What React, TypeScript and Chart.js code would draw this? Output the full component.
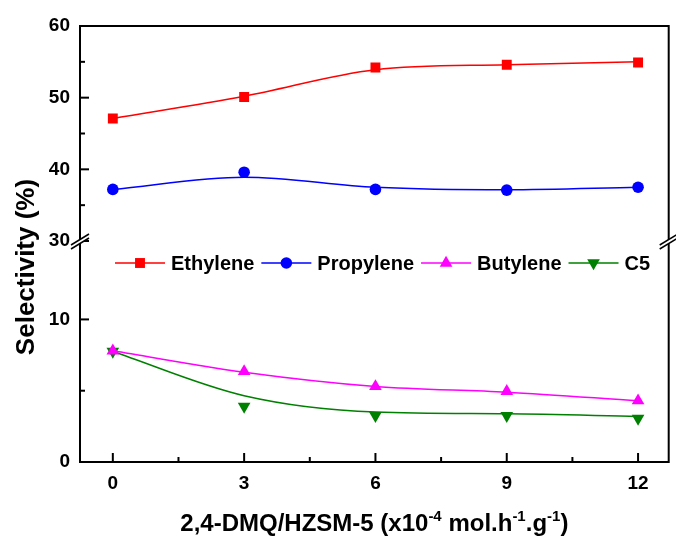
import React, { useEffect, useRef } from 'react';
import { Chart, registerables } from 'chart.js';

Chart.register(...registerables);

// ---- data ----
const xValues = [0, 3, 6, 9, 12];
const ethylene = [47.1, 50.1, 54.2, 54.6, 54.9];
const propylene = [37.2, 39.6, 37.2, 37.1, 37.5];
const butylene = [7.8, 6.35, 5.3, 4.95, 4.3];
const c5 = [7.75, 3.9, 3.25, 3.25, 3.05];
// smoothed curves as drawn in the figure (read at the same x positions)
const ethyleneCurve = [47.1, 50.2, 53.9, 54.6, 55.0];
const propyleneCurve = [37.2, 38.9, 37.5, 37.15, 37.5];
const butyleneCurve = [7.8, 6.3, 5.3, 4.9, 4.3];
const c5Curve = [7.75, 4.65, 3.5, 3.38, 3.19];

const seriesNames = ['Ethylene', 'Propylene', 'Butylene', 'C5'];
const seriesColors = ['#FF0000', '#0000FF', '#FF00FF', '#008000'];

const xTicks = [0, 3, 6, 9, 12];
const xMinorTicks = [1.5, 4.5, 7.5, 10.5];
const upperTicks = [30, 40, 50, 60];
const upperMinorTicks = [35, 45, 55];
const lowerTicks = [0, 10];
const lowerMinorTicks = [5];

const FONT_FAMILY = '"Liberation Sans", Arial, Helvetica, sans-serif';

type Marker = { style: string; radius: number; rotation: number };
const markers: Marker[] = [
  { style: 'rect', radius: 7, rotation: 0 },
  { style: 'circle', radius: 5.8, rotation: 0 },
  { style: 'triangle', radius: 7.3, rotation: 0 },
  { style: 'triangle', radius: 7.3, rotation: 180 },
];

function drawMarker(ctx: CanvasRenderingContext2D, m: Marker, x: number, y: number, color: string) {
  ctx.save();
  ctx.fillStyle = color;
  ctx.beginPath();
  if (m.style === 'rect') {
    const s = Math.SQRT1_2 * m.radius;
    ctx.rect(x - s, y - s, 2 * s, 2 * s);
  } else if (m.style === 'circle') {
    ctx.arc(x, y, m.radius, 0, Math.PI * 2);
  } else {
    let rad = (m.rotation * Math.PI) / 180;
    const r = m.radius;
    ctx.moveTo(x + Math.sin(rad) * r, y - Math.cos(rad) * r);
    rad += (2 * Math.PI) / 3;
    ctx.lineTo(x + Math.sin(rad) * r, y - Math.cos(rad) * r);
    rad += (2 * Math.PI) / 3;
    ctx.lineTo(x + Math.sin(rad) * r, y - Math.cos(rad) * r);
    ctx.closePath();
  }
  ctx.fill();
  ctx.restore();
}

const decorPlugin = {
  id: 'decor',
  afterDraw(chart: any) {
    const ctx: CanvasRenderingContext2D = chart.ctx;
    const { left, right, top, bottom } = chart.chartArea;
    const xs = chart.scales.x;
    const yl = chart.scales.yLow;
    const yh = chart.scales.yHigh;
    ctx.save();
    ctx.strokeStyle = '#000';
    ctx.lineCap = 'butt';

    const seg = (x1: number, y1: number, x2: number, y2: number) => {
      ctx.beginPath();
      ctx.moveTo(x1, y1);
      ctx.lineTo(x2, y2);
      ctx.stroke();
    };

    // frame
    ctx.lineWidth = 2;
    ctx.strokeRect(left, top, right - left, bottom - top);

    // ticks (inward)
    ctx.lineWidth = 2;
    xTicks.forEach((v) => {
      const p = xs.getPixelForValue(v);
      seg(p, bottom, p, bottom - 9);
    });
    xMinorTicks.forEach((v) => {
      const p = xs.getPixelForValue(v);
      seg(p, bottom, p, bottom - 5);
    });
    upperTicks.forEach((v) => {
      const p = yh.getPixelForValue(v);
      seg(left, p, left + 9, p);
    });
    upperMinorTicks.forEach((v) => {
      const p = yh.getPixelForValue(v);
      seg(left, p, left + 5, p);
    });
    lowerTicks.forEach((v) => {
      const p = yl.getPixelForValue(v);
      seg(left, p, left + 9, p);
    });
    lowerMinorTicks.forEach((v) => {
      const p = yl.getPixelForValue(v);
      seg(left, p, left + 5, p);
    });

    // axis break marks
    const yb = yh.bottom;
    const breakMark = (cx: number) => {
      ctx.fillStyle = '#fff';
      ctx.beginPath();
      ctx.moveTo(cx - 9, yb + 4);
      ctx.lineTo(cx + 9, yb - 7);
      ctx.lineTo(cx + 9, yb - 3);
      ctx.lineTo(cx - 9, yb + 8);
      ctx.closePath();
      ctx.fill();
      ctx.strokeStyle = '#000';
      ctx.lineWidth = 1.5;
      seg(cx - 9, yb + 4, cx + 9, yb - 7);
      seg(cx - 9, yb + 8, cx + 9, yb - 3);
    };
    breakMark(left);
    breakMark(right);

    // legend
    ctx.font = `bold 20px ${FONT_FAMILY}`;
    ctx.textAlign = 'left';
    ctx.textBaseline = 'alphabetic';
    let lx = left + 35;
    const ly = yl.getPixelForValue(15.5) + 22;
    seriesNames.forEach((name, i) => {
      const color = seriesColors[i];
      ctx.strokeStyle = color;
      ctx.lineWidth = 1.5;
      seg(lx, ly, lx + 50, ly);
      drawMarker(ctx, markers[i], lx + 25, ly, color);
      ctx.fillStyle = '#000';
      ctx.fillText(name, lx + 56, ly + 7);
      lx += 56 + ctx.measureText(name).width + 7;
    });

    // y title
    ctx.save();
    ctx.fillStyle = '#000';
    ctx.font = `bold 26px ${FONT_FAMILY}`;
    ctx.translate(34, 267);
    ctx.rotate(-Math.PI / 2);
    ctx.textAlign = 'center';
    ctx.textBaseline = 'alphabetic';
    ctx.fillText('Selectivity (%)', 0, 0);
    ctx.restore();

    // x title with superscripts
    const mainFont = `bold 24px ${FONT_FAMILY}`;
    const supFont = `bold 15px ${FONT_FAMILY}`;
    const parts: [string, boolean][] = [
      ['2,4-DMQ/HZSM-5 (x10', false],
      ['-4', true],
      [' mol.h', false],
      ['-1', true],
      ['.g', false],
      ['-1', true],
      [')', false],
    ];
    let total = 0;
    parts.forEach(([t, sup]) => {
      ctx.font = sup ? supFont : mainFont;
      total += ctx.measureText(t).width;
    });
    let tx = (left + right) / 2 - total / 2;
    const baseY = 531;
    ctx.fillStyle = '#000';
    ctx.textAlign = 'left';
    parts.forEach(([t, sup]) => {
      ctx.font = sup ? supFont : mainFont;
      ctx.fillText(t, tx, sup ? baseY - 10 : baseY);
      tx += ctx.measureText(t).width;
    });

    ctx.restore();
  },
};

const pts = (ys: number[]) => xValues.map((x, i) => ({ x, y: ys[i] }));

export default function App() {
  const canvasRef = useRef<HTMLCanvasElement | null>(null);

  useEffect(() => {
    document.body.style.margin = '0';
    const canvas = canvasRef.current;
    if (!canvas) return;
    const tickFont = { family: FONT_FAMILY, weight: 'bold' as const, size: 19 };
    const axisIds = ['yHigh', 'yHigh', 'yLow', 'yLow'];
    const pointSeries = [ethylene, propylene, butylene, c5];
    const curveSeries = [ethyleneCurve, propyleneCurve, butyleneCurve, c5Curve];

    const datasets: any[] = [];
    pointSeries.forEach((s, i) => {
      datasets.push({
        label: seriesNames[i],
        data: pts(s),
        yAxisID: axisIds[i],
        showLine: false,
        pointStyle: markers[i].style,
        pointRadius: markers[i].radius,
        pointRotation: markers[i].rotation,
        pointBackgroundColor: seriesColors[i],
        pointBorderWidth: 0,
        pointBorderColor: seriesColors[i],
        order: 0,
      });
    });
    curveSeries.forEach((s, i) => {
      datasets.push({
        label: seriesNames[i] + ' curve',
        data: pts(s),
        yAxisID: axisIds[i],
        showLine: true,
        pointRadius: 0,
        borderColor: seriesColors[i],
        borderWidth: 1.5,
        cubicInterpolationMode: 'monotone',
        fill: false,
        order: 1,
      });
    });

    const chart = new Chart(canvas, {
      type: 'line',
      data: { datasets },
      options: {
        responsive: false,
        animation: false,
        events: [],
        layout: { padding: { top: 26, right: 3, left: 0, bottom: 0 } },
        plugins: { legend: { display: false }, tooltip: { enabled: false } },
        scales: {
          x: {
            type: 'linear',
            position: 'bottom',
            min: -0.75,
            max: 12.7,
            afterBuildTicks: (s: any) => {
              s.ticks = xTicks.map((v) => ({ value: v }));
            },
            afterFit: (s: any) => {
              s.height = 76;
            },
            grid: { display: false, drawTicks: false },
            border: { display: false },
            ticks: { font: tickFont, color: '#000', padding: 10, maxRotation: 0, autoSkip: false },
          },
          yLow: {
            type: 'linear',
            position: 'left',
            stack: 'y',
            stackWeight: 221,
            min: 0,
            max: 15.5,
            afterBuildTicks: (s: any) => {
              s.ticks = lowerTicks.map((v) => ({ value: v }));
            },
            afterFit: (s: any) => {
              s.width = 80;
            },
            grid: { display: false, drawTicks: false },
            border: { display: false },
            ticks: { font: tickFont, color: '#000', padding: 10, autoSkip: false },
          },
          yHigh: {
            type: 'linear',
            position: 'left',
            stack: 'y',
            stackWeight: 215,
            min: 30,
            max: 60,
            afterBuildTicks: (s: any) => {
              s.ticks = upperTicks.map((v) => ({ value: v }));
            },
            afterFit: (s: any) => {
              s.width = 80;
            },
            grid: { display: false, drawTicks: false },
            border: { display: false },
            ticks: { font: tickFont, color: '#000', padding: 10, autoSkip: false },
          },
        },
      } as any,
      plugins: [decorPlugin],
    });
    return () => chart.destroy();
  }, []);

  return (
    <div style={{ width: 676, height: 538 }}>
      <canvas ref={canvasRef} width={676} height={538} style={{ display: 'block' }} />
    </div>
  );
}
